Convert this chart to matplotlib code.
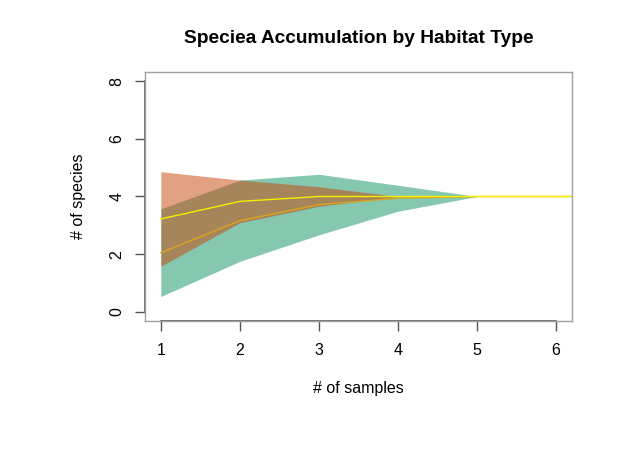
import matplotlib
matplotlib.use("Agg")
import matplotlib.pyplot as plt
import numpy as np

plt.rcParams['font.family'] = ['Liberation Sans', 'DejaVu Sans']

# data
samples = [1, 2, 3, 4, 5, 6, 7]
habitat_a_mean = [3.22, 3.83, 4.00, 4.00, 4.00, 4.00, 4.00]   # salmon band / yellow line
habitat_a_sd   = [1.64, 0.74, 0.34, 0.00, 0.00, 0.00, 0.00]
habitat_b_mean = [2.05, 3.16, 3.72, 3.94, 4.00, 4.00, 4.00]   # teal band / orange line
habitat_b_sd   = [1.52, 1.41, 1.05, 0.45, 0.00, 0.00, 0.00]
xticks = [1, 2, 3, 4, 5, 6]
yticks = [0, 2, 4, 6, 8]

fig = plt.figure(figsize=(6.44, 4.65), dpi=100)
ax = fig.add_axes([145/644, 1-321/465, (572-145)/644, (321-72)/465])

x = np.array(samples)
am, asd = np.array(habitat_a_mean), np.array(habitat_a_sd)
bm, bsd = np.array(habitat_b_mean), np.array(habitat_b_sd)

ax.fill_between(x, bm - bsd, bm + bsd, color='#0D9161', alpha=0.5, linewidth=0)
ax.fill_between(x, am - asd, am + asd, color='#C74507', alpha=0.5, linewidth=0)
ax.plot(x, bm, color='#DAA520', lw=1.0)
ax.plot(x, am, color='#F5F000', lw=1.0)

ax.set_xlim(0.8, 6.2)
ax.set_ylim(-0.32, 8.32)

for s in ax.spines.values():
    s.set_color('#a0a0a0')
    s.set_linewidth(1.0)

# R style axis lines
ax.plot([xticks[0], xticks[-1]], [0, 0], transform=ax.get_xaxis_transform(),
        color='#555555', lw=1.2, clip_on=False)
ax.plot([0, 0], [yticks[0], yticks[-1]], transform=ax.get_yaxis_transform(),
        color='#555555', lw=1.2, clip_on=False)

ax.set_xticks(xticks)
ax.set_yticks(yticks)
ax.set_xticklabels([str(v) for v in xticks])
ax.set_yticklabels([str(v) for v in yticks], rotation=90, va='center')
ax.tick_params(axis='both', length=7, width=1, color='#555555', labelsize=11.5, labelcolor='black')
ax.tick_params(axis='x', pad=9)
ax.tick_params(axis='y', pad=8)

fig.text(358.5/644, 1-38/465, 'Speciea Accumulation by Habitat Type', ha='center', va='center',
         fontsize=13.8, fontweight='bold')
fig.text(358.5/644, 1-388/465, '# of samples', ha='center', va='center', fontsize=11.5)
fig.text(78/644, 1-196/465, '# of species', ha='center', va='center', fontsize=11.5, rotation=90)

fig.savefig('out.png', dpi=100)
